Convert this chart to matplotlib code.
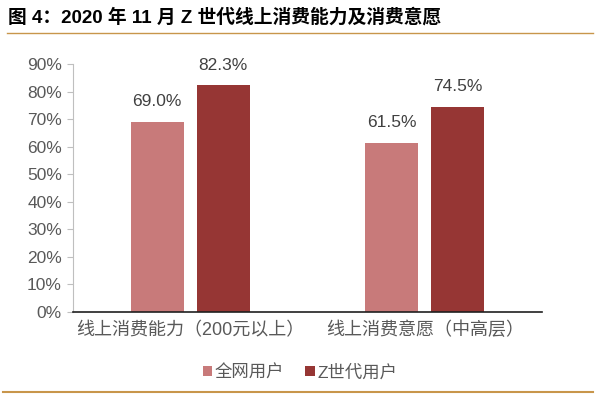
import matplotlib
matplotlib.use("Agg")
import matplotlib.pyplot as plt
from matplotlib.lines import Line2D
import numpy as np

plt.rcParams["font.family"] = ["Liberation Sans", "Noto Sans CJK SC", "DejaVu Sans"]

categories = ["线上消费能力（200元以上）", "线上消费意愿（中高层）"]
series_names = ["全网用户", "Z世代用户"]
all_users = [69.0, 61.5]
gen_z = [82.3, 74.5]
yticks = [0, 10, 20, 30, 40, 50, 60, 70, 80, 90]

c_light = "#C87A7A"
c_dark = "#963634"
gold = "#C8964B"
txt = "#595959"

fig = plt.figure(figsize=(6.0, 3.98), dpi=100)
ax = fig.add_axes([73 / 600, 1 - 312 / 398, 469 / 600, 248 / 398])

x = np.arange(len(categories))
w = 0.226
off = 0.141
b1 = ax.bar(x - off, all_users, w, color=c_light, label=series_names[0])
b2 = ax.bar(x + off, gen_z, w, color=c_dark, label=series_names[1])
for bars, vals in [(b1, all_users), (b2, gen_z)]:
    for b, v in zip(bars, vals):
        ax.text(b.get_x() + b.get_width() / 2, v + 7.3, f"{v:.1f}%",
                ha="center", va="center", fontsize=12.5, color="#404040")

ax.set_xlim(-0.5, 1.5)
ax.set_ylim(0, 90)
ax.set_yticks(yticks)
ax.set_yticklabels([f"{t}%" for t in yticks], fontsize=12.5, color=txt)
ax.set_xticks(x)
ax.set_xticklabels(categories, fontsize=13, color=txt)
ax.tick_params(axis="x", length=0, pad=7)
ax.tick_params(axis="y", length=4, color="#BFBFBF", pad=4)
for s in ["top", "right"]:
    ax.spines[s].set_visible(False)
ax.spines["left"].set_color("#BFBFBF")
ax.spines["bottom"].set_color("#202020")
ax.spines["bottom"].set_linewidth(1.2)

leg = fig.legend(handles=[b1, b2], labels=series_names, loc="center",
                 bbox_to_anchor=(0.5, 1 - 372 / 398), ncol=2, frameon=False,
                 fontsize=12.5, handlelength=0.55, handleheight=0.55,
                 handletextpad=0.15, columnspacing=1.2)
for t in leg.get_texts():
    t.set_color(txt)

fig.text(8 / 600, 1 - 17 / 398, "图 4：2020 年 11 月 Z 世代线上消费能力及消费意愿",
         fontsize=13.5, fontweight="bold", color="black", va="center", ha="left")
fig.add_artist(Line2D([7 / 600, 593 / 600], [1 - 33 / 398] * 2, color=gold, lw=1.0))
fig.add_artist(Line2D([3 / 600, 593 / 600], [1 - 392 / 398] * 2, color=gold, lw=1.5))

fig.savefig("out.png", dpi=100)
